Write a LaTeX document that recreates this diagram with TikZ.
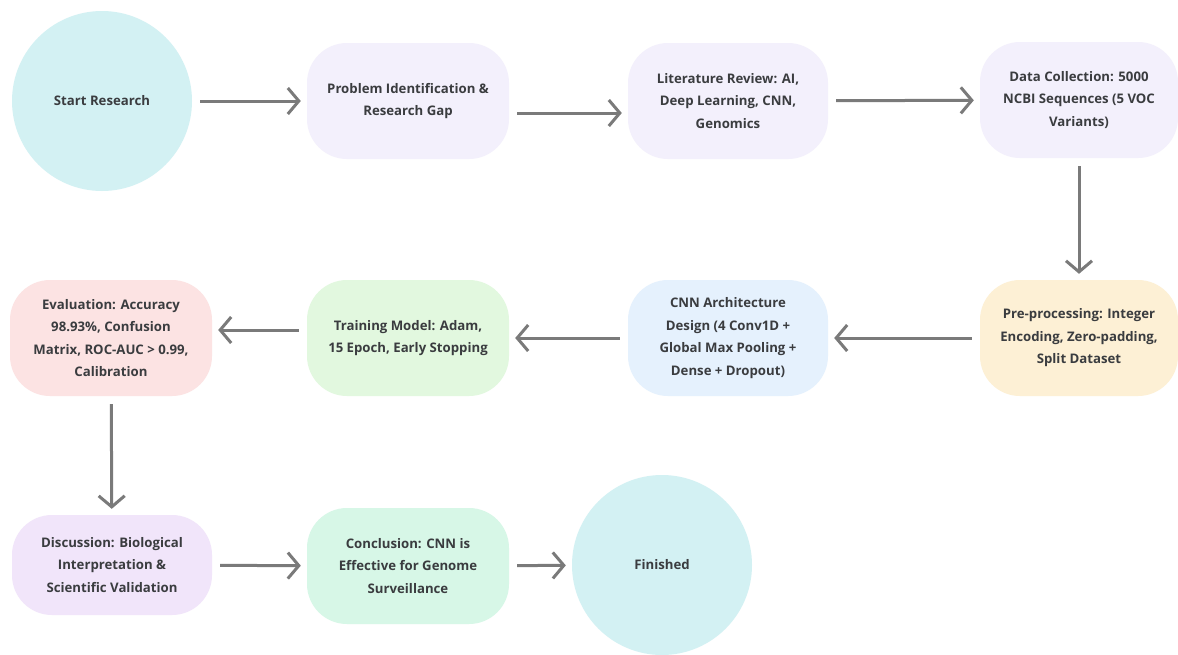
\documentclass[tikz,border=0pt]{standalone}
\usepackage{fontspec}
\setmainfont{Open Sans}
\usetikzlibrary{arrows.meta}
\definecolor{circbg}{HTML}{D3F1F3}
\definecolor{lavbg}{HTML}{F3F0FC}
\definecolor{creambg}{HTML}{FDF0D5}
\definecolor{bluebg}{HTML}{E5F1FD}
\definecolor{greenbg}{HTML}{E2F8DF}
\definecolor{pinkbg}{HTML}{FCE3E3}
\definecolor{purplebg}{HTML}{F1E5FA}
\definecolor{mintbg}{HTML}{D7F7E7}
\definecolor{txtgray}{HTML}{3A3C3F}
\definecolor{arrowgray}{HTML}{7A7A7A}
\begin{document}
\begin{tikzpicture}[x=1pt, y=-1pt,
    every node/.style={font=\fontsize{13.2}{22.5}\selectfont\bfseries, text=txtgray, align=center},
    box/.style={rounded corners=40pt, minimum width=202pt, minimum height=116pt, inner sep=0pt},
    circ/.style={circle, minimum size=180pt, inner sep=0pt, fill=circbg},
    flow/.style={-{Straight Barb[length=11pt, width=26pt, line width=3pt]}, line width=3pt, draw=arrowgray, shorten <=8pt, shorten >=6pt}]
        \fill[white] (0,0) rectangle (1178,654);
        \useasboundingbox (0,0) rectangle (1178,654);
        % Top row
            \node[circ] (start) at (102, 101) {Start Research};
            \node[box, fill=lavbg] (prob) at (408, 101) {Problem Identification \&\\Research Gap};
            \node[box, fill=lavbg, minimum width=200pt] (lit) at (728, 101) {Literature Review: AI,\\Deep Learning, CNN,\\Genomics};
            \node[box, fill=lavbg, minimum width=198pt] (data) at (1079, 100) {Data Collection: 5000\\NCBI Sequences (5 VOC\\Variants)};
        % Middle row
            \node[box, fill=creambg, minimum width=198pt] (pre) at (1079, 338) {Pre-processing: Integer\\Encoding, Zero-padding,\\Split Dataset};
            \node[box, fill=bluebg, minimum width=200pt] (cnn) at (728, 338) {CNN Architecture\\Design (4 Conv1D +\\Global Max Pooling +\\Dense + Dropout)};
            \node[box, fill=greenbg] (train) at (408, 338) {Training Model: Adam,\\15 Epoch, Early Stopping};
            \node[box, fill=pinkbg] (eval) at (111, 338) {Evaluation: Accuracy\\98.93\%, Confusion\\Matrix, ROC-AUC > 0.99,\\Calibration};
        % Bottom row
            \node[box, fill=purplebg, minimum width=200pt, minimum height=100pt] (disc) at (112, 565) {Discussion: Biological\\Interpretation \&\\Scientific Validation};
            \node[box, fill=mintbg] (concl) at (408, 566) {Conclusion: CNN is\\Effective for Genome\\Surveillance};
            \node[circ] (fin) at (662, 565) {Finished};
        % Arrows
            \draw[flow] (start) -- (prob);
            \draw[flow] ([yshift=-12pt]prob.east) -- ([yshift=-12pt]lit.west);
            \draw[flow] (lit) -- (data);
            \draw[flow] (data) -- (pre);
            \draw[flow] (pre) -- (cnn);
            \draw[flow] (cnn) -- (train);
            \draw[flow] ([yshift=8pt]train.west) -- ([yshift=8pt]eval.east);
            \draw[flow] (eval) -- (disc);
            \draw[flow] (disc) -- (concl);
            \draw[flow] (concl) -- (fin);
\end{tikzpicture}
\end{document}
